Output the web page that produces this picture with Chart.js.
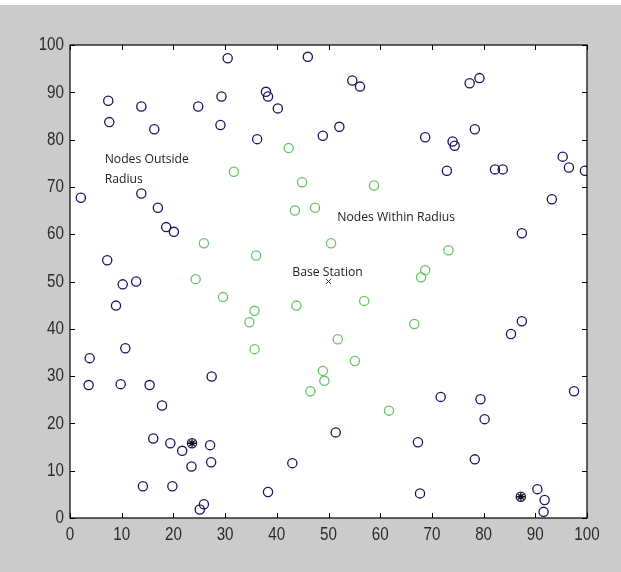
<!DOCTYPE html>
<html>
<head>
<meta charset="utf-8">
<script src="https://cdn.jsdelivr.net/npm/chart.js@4"></script>
<style>
html,body{margin:0;padding:0;background:#cbcbcb;}
#wrap{width:621px;height:572px;position:relative;}
</style>
</head>
<body>
<div id="wrap"><canvas id="c" width="621" height="572"></canvas></div>
<script>
// Nodes outside radius (navy circles)
const outsideX = [2.1,7.4,13.8,24.8,29.3,30.5,7.6,16.3,29.1,13.8,17.0,18.6,20.1,
  46.0,37.9,38.3,40.2,54.6,56.1,36.2,48.9,52.1,
  77.3,79.2,68.7,74.0,74.4,78.3,72.9,82.2,83.7,95.3,96.5,99.6,93.2,87.4,
  7.2,10.2,12.8,8.9,10.7,3.8,3.6,9.8,15.4,17.8,27.4,
  87.4,85.3,97.5,71.7,79.4,80.2,
  16.1,19.4,21.7,27.1,27.3,23.5,14.1,19.8,25.9,25.1,
  51.4,43.0,38.3,
  67.3,78.3,67.7,90.4,91.8,91.6,
  23.6,87.2];
const outsideY = [67.7,88.2,87.0,87.0,89.1,97.2,83.7,82.2,83.1,68.6,65.6,61.5,60.5,
  97.5,90.1,89.1,86.6,92.5,91.2,80.1,80.8,82.7,
  91.9,93.0,80.5,79.6,78.7,82.2,73.4,73.7,73.7,76.4,74.1,73.4,67.4,60.2,
  54.5,49.4,50.0,44.9,35.9,33.8,28.1,28.3,28.1,23.8,29.9,
  41.6,38.9,26.8,25.6,25.1,20.9,
  16.8,15.8,14.2,15.4,11.8,10.9,6.7,6.7,2.9,1.8,
  18.1,11.6,5.5,
  16.0,12.4,5.2,6.1,3.8,1.3,
  15.8,4.5];
// Nodes within radius (green circles)
const withinX = [42.3,31.7,44.9,58.8,43.5,47.4,25.9,24.3,29.6,50.5,36.0,43.8,56.9,35.7,34.7,35.7,51.8,55.1,48.9,49.2,46.5,61.7,73.2,68.7,67.9,66.6];
const withinY = [78.2,73.2,71.0,70.3,65.0,65.6,58.1,50.5,46.7,58.1,55.5,44.9,45.9,43.8,41.4,35.7,37.8,33.2,31.1,29.0,26.8,22.7,56.6,52.4,50.9,41.0];
// Cluster heads (asterisk markers)
const headX = [23.6,87.2];
const headY = [15.8,4.5];
// Base station
const baseX = [50];
const baseY = [50];
// Ticks
const tickValues = [0,10,20,30,40,50,60,70,80,90,100];
const tickLabels = ["0","10","20","30","40","50","60","70","80","90","100"];
// Annotations
const noteTexts = [["Nodes Outside","Radius"],["Nodes Within Radius"],["Base Station"]];
const noteX = [6.7,51.7,43.0];
const noteY = [75.8,63.5,52.0];

const pts = (xs, ys) => xs.map((x,i)=>({x:x,y:ys[i]}));

const frame = {
  id:'frame',
  beforeDraw(chart){
    const ctx = chart.ctx, a = chart.chartArea;
    ctx.save();
    ctx.fillStyle = '#cbcbcb';
    ctx.fillRect(0,0,chart.width,chart.height);
    ctx.fillStyle = '#ffffff';
    ctx.fillRect(0,0,chart.width,5);
    ctx.fillRect(a.left,a.top,a.right-a.left,a.bottom-a.top);
    ctx.restore();
  },
  afterDatasetsDraw(chart){
    const ctx = chart.ctx, a = chart.chartArea;
    const xs = chart.scales.x, ys = chart.scales.y;
    ctx.save();
    ctx.strokeStyle = '#000';
    ctx.lineWidth = 1.2;
    ctx.strokeRect(a.left, a.top, a.right-a.left, a.bottom-a.top);
    ctx.lineWidth = 1;
    const tl = 5;
    ctx.beginPath();
    tickValues.forEach(v=>{
      const px = Math.round(xs.getPixelForValue(v))+0.5;
      ctx.moveTo(px,a.bottom); ctx.lineTo(px,a.bottom-tl);
      ctx.moveTo(px,a.top); ctx.lineTo(px,a.top+tl);
      const py = Math.round(ys.getPixelForValue(v))+0.5;
      ctx.moveTo(a.left,py); ctx.lineTo(a.left+tl,py);
      ctx.moveTo(a.right,py); ctx.lineTo(a.right-tl,py);
    });
    ctx.stroke();
    // condensed tick labels
    const sx = 0.8;
    ctx.fillStyle = '#2a2a2a';
    ctx.font = '19px "Liberation Sans", Arial, sans-serif';
    ctx.textBaseline = 'middle';
    tickValues.forEach((v,i)=>{
      const py = ys.getPixelForValue(v);
      ctx.save();
      ctx.translate(a.left-6, py);
      ctx.scale(sx,1);
      ctx.textAlign = 'right';
      ctx.fillText(tickLabels[i], 0, 0);
      ctx.restore();
      const px = xs.getPixelForValue(v);
      ctx.save();
      ctx.translate(px, a.bottom+17);
      ctx.scale(sx,1);
      ctx.textAlign = 'center';
      ctx.fillText(tickLabels[i], 0, 0);
      ctx.restore();
    });
    // annotations
    ctx.fillStyle = '#222';
    ctx.font = '12.2px "Open Sans", sans-serif';
    ctx.textAlign = 'left';
    ctx.textBaseline = 'middle';
    noteTexts.forEach((lines,i)=>{
      const px = xs.getPixelForValue(noteX[i]);
      const py = ys.getPixelForValue(noteY[i]);
      lines.forEach((t,j)=>ctx.fillText(t, px, py + j*20));
    });
    ctx.restore();
  }
};

new Chart(document.getElementById('c'), {
  type:'scatter',
  data:{
    datasets:[
      {label:'Outside', data:pts(outsideX,outsideY), pointStyle:'circle', pointRadius:4.6,
       pointBorderColor:'#16165e', pointBackgroundColor:'rgba(0,0,0,0)', pointBorderWidth:1.3},
      {label:'Within', data:pts(withinX,withinY), pointStyle:'circle', pointRadius:4.6,
       pointBorderColor:'#66c266', pointBackgroundColor:'rgba(0,0,0,0)', pointBorderWidth:1.3},
      {label:'Heads', data:pts(headX,headY), pointStyle:'star', pointRadius:4,
       pointBorderColor:'#111', pointBackgroundColor:'#111', pointBorderWidth:1.4},
      {label:'Base', data:pts(baseX,baseY), pointStyle:'crossRot', pointRadius:3.6,
       pointBorderColor:'#333', pointBorderWidth:1}
    ]
  },
  options:{
    responsive:false,
    animation:false,
    devicePixelRatio:1,
    layout:{padding:{top:45,right:34,left:0,bottom:0}},
    plugins:{legend:{display:false}, tooltip:{enabled:false}},
    scales:{
      x:{type:'linear', min:0, max:100,
        afterBuildTicks(s){ s.ticks = tickValues.map(v=>({value:v})); },
        afterFit(s){ s.height = 54; },
        grid:{display:false}, border:{display:false},
        ticks:{display:false}
      },
      y:{type:'linear', min:0, max:100,
        afterBuildTicks(s){ s.ticks = tickValues.map(v=>({value:v})); },
        afterFit(s){ s.width = 70; },
        grid:{display:false}, border:{display:false},
        ticks:{display:false}
      }
    }
  },
  plugins:[frame]
});
</script>
</body>
</html>
